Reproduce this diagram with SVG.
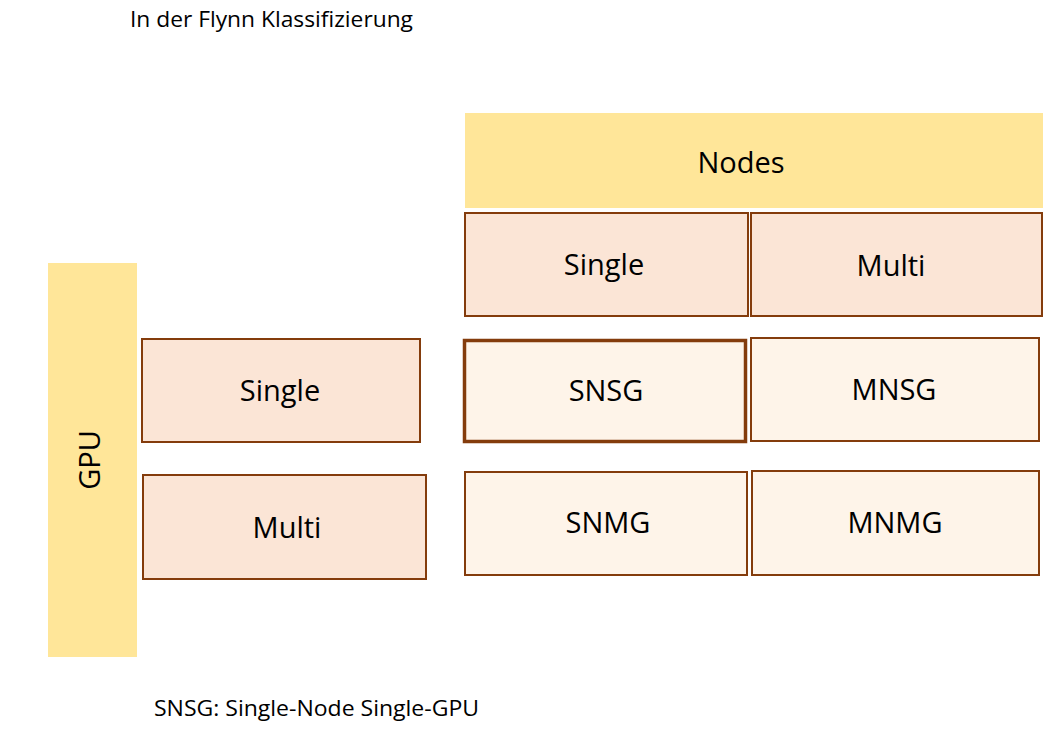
<svg xmlns="http://www.w3.org/2000/svg" width="1046" height="729" viewBox="0 0 1046 729">
<style>
text{font-family:"Open Sans","Noto Sans","Liberation Sans",sans-serif;fill:#000;}
.hdr{fill:#FFE699;stroke:none;}
.cat{fill:#FBE5D6;stroke:#843C0C;stroke-width:2;}
.cell{fill:#FEF4E9;stroke:#843C0C;stroke-width:2;}
.thick{stroke-width:3.5;}
.big{font-size:29px;text-anchor:middle;}
.small{font-size:21px;}
</style>
<rect width="1046" height="729" fill="#fff"/>
<text class="small" x="130" y="27" textLength="283" lengthAdjust="spacingAndGlyphs">In der Flynn Klassifizierung</text>
<g id="nodes-header"><rect class="hdr" x="465" y="113" width="578" height="95"/><text class="big" x="741" y="173">Nodes</text></g>
<g id="nodes-single"><rect class="cat" x="465" y="213" width="283" height="103"/><text class="big" x="604" y="275">Single</text></g>
<g id="nodes-multi"><rect class="cat" x="751" y="213" width="291" height="103"/><text class="big" x="891" y="276">Multi</text></g>
<g id="gpu-header"><rect class="hdr" x="48" y="263" width="89" height="394"/><text class="big" transform="translate(100,460) rotate(-90)">GPU</text></g>
<g id="gpu-single"><rect class="cat" x="142" y="339" width="278" height="103"/><text class="big" x="280" y="401">Single</text></g>
<g id="gpu-multi"><rect class="cat" x="143" y="475" width="283" height="104"/><text class="big" x="287" y="538">Multi</text></g>
<g id="snsg"><rect class="cell thick" x="464.5" y="340.5" width="281" height="101"/><text class="big" x="606" y="401">SNSG</text></g>
<g id="mnsg"><rect class="cell" x="751" y="338" width="288" height="103"/><text class="big" x="894" y="400">MNSG</text></g>
<g id="snmg"><rect class="cell" x="465" y="472" width="282" height="103"/><text class="big" x="608" y="533">SNMG</text></g>
<g id="mnmg"><rect class="cell" x="752" y="471" width="287" height="104"/><text class="big" x="895" y="533">MNMG</text></g>
<g id="connectors"></g>
<text class="small" x="154" y="716" textLength="325" lengthAdjust="spacingAndGlyphs">SNSG: Single-Node Single-GPU</text>
</svg>
